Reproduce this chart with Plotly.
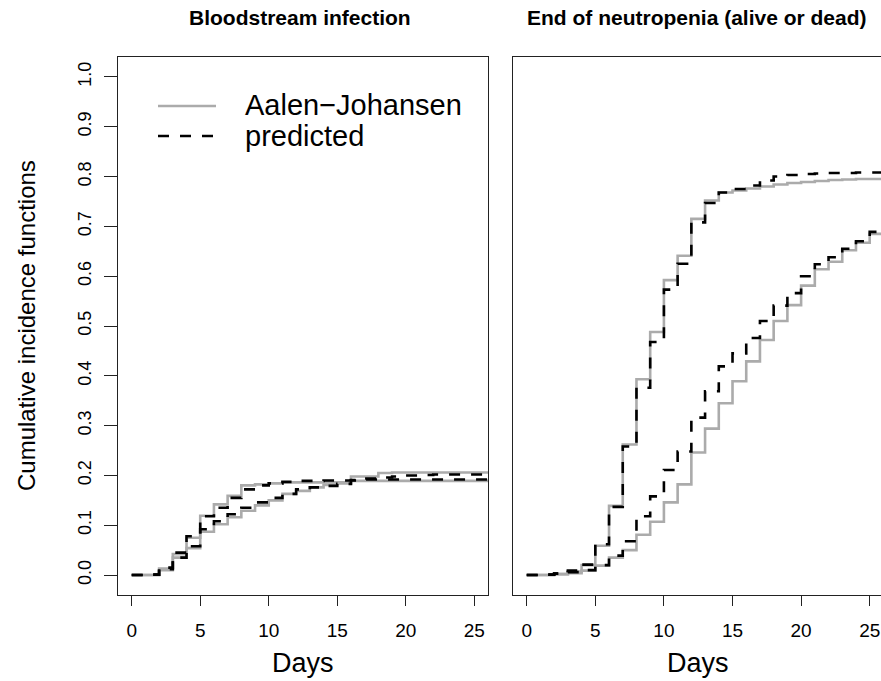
import plotly.graph_objects as go

# ---- data: cumulative incidence by day (step functions) ----
days = list(range(26))

# Bloodstream infection: Aalen-Johansen estimates, two groups
bsi_aj_a = [0, 0, 0.013, 0.042, 0.075, 0.119, 0.142, 0.159, 0.180, 0.182, 0.184, 0.186, 0.186,
            0.186, 0.186, 0.186, 0.198, 0.198, 0.205, 0.206, 0.206, 0.206, 0.206, 0.206, 0.206, 0.206]
bsi_aj_b = [0, 0, 0.010, 0.035, 0.054, 0.087, 0.102, 0.116, 0.129, 0.140, 0.150, 0.163, 0.169,
            0.176, 0.181, 0.184, 0.189, 0.189, 0.189, 0.189, 0.189, 0.189, 0.189, 0.189, 0.189, 0.189]
# Bloodstream infection: model predictions
bsi_pr_a = [0, 0.001, 0.015, 0.045, 0.078, 0.118, 0.135, 0.155, 0.172, 0.180, 0.184, 0.187, 0.189,
            0.189, 0.190, 0.190, 0.191, 0.192, 0.192, 0.192, 0.192, 0.192, 0.192, 0.192, 0.192, 0.192]
bsi_pr_b = [0, 0.001, 0.012, 0.035, 0.058, 0.092, 0.108, 0.122, 0.135, 0.146, 0.155, 0.163, 0.172,
            0.176, 0.179, 0.183, 0.190, 0.194, 0.196, 0.198, 0.200, 0.201, 0.202, 0.202, 0.202, 0.202]

# End of neutropenia: Aalen-Johansen estimates, two groups
neu_aj_a = [0, 0, 0.002, 0.007, 0.020, 0.059, 0.139, 0.262, 0.393, 0.488, 0.592, 0.641, 0.715,
            0.752, 0.768, 0.772, 0.776, 0.780, 0.784, 0.787, 0.789, 0.791, 0.793, 0.794, 0.795, 0.795]
neu_aj_b = [0, 0, 0.002, 0.004, 0.009, 0.019, 0.035, 0.050, 0.081, 0.107, 0.146, 0.182, 0.246,
            0.294, 0.345, 0.389, 0.429, 0.472, 0.510, 0.542, 0.581, 0.614, 0.629, 0.652, 0.667, 0.685]
# End of neutropenia: model predictions
neu_pr_a = [0, 0.001, 0.003, 0.009, 0.021, 0.062, 0.137, 0.258, 0.376, 0.468, 0.573, 0.625, 0.708,
            0.747, 0.768, 0.775, 0.782, 0.792, 0.800, 0.803, 0.805, 0.806, 0.807, 0.807, 0.808, 0.808]
neu_pr_b = [0, 0.001, 0.003, 0.006, 0.010, 0.020, 0.039, 0.068, 0.118, 0.158, 0.211, 0.248, 0.316,
            0.369, 0.419, 0.445, 0.476, 0.510, 0.541, 0.566, 0.600, 0.624, 0.638, 0.655, 0.670, 0.689]

panel_titles = ["Bloodstream infection", "End of neutropenia (alive or dead)"]
legend_labels = ["Aalen\u2212Johansen", "predicted"]
x_ticks = [0, 5, 10, 15, 20, 25]
y_ticks = [0.0, 0.1, 0.2, 0.3, 0.4, 0.5, 0.6, 0.7, 0.8, 0.9, 1.0]

# ---- styling ----
W, H = 881, 681
FONT = "Liberation Sans, Arial, Helvetica, sans-serif"
GREY = "#ababab"
LW = 2.6
DASH = "11px,11px"


def px(x):
    return x / W


def py(y):
    return 1 - y / H


def extend(vals):
    # carry the last value on past the final day so the step runs to the frame
    return days + [30], vals + [vals[-1]]


fig = go.Figure()

for xa, ya, aj_series, pr_series in [
    ("x", "y", [bsi_aj_a, bsi_aj_b], [bsi_pr_a, bsi_pr_b]),
    ("x2", "y2", [neu_aj_a, neu_aj_b], [neu_pr_a, neu_pr_b]),
]:
    for s in aj_series:
        xs, ys = extend(s)
        fig.add_trace(go.Scatter(x=xs, y=ys, mode="lines", line_shape="hv",
                                 line=dict(color=GREY, width=LW),
                                 xaxis=xa, yaxis=ya, showlegend=False, hoverinfo="skip"))
    for s in pr_series:
        xs, ys = extend(s)
        fig.add_trace(go.Scatter(x=xs, y=ys, mode="lines", line_shape="hv",
                                 line=dict(color="black", width=LW, dash=DASH),
                                 xaxis=xa, yaxis=ya, showlegend=False, hoverinfo="skip"))

y_dom = [py(595), py(57)]
axis_common = dict(showgrid=False, zeroline=False, linecolor="#222", linewidth=1.2,
                   ticks="outside", tickcolor="#222", tickwidth=1.2)

fig.update_layout(
    width=W, height=H,
    margin=dict(l=0, r=0, t=0, b=0),
    paper_bgcolor="white", plot_bgcolor="white",
    font=dict(family=FONT, color="black"),
    showlegend=False,
    xaxis=dict(domain=[px(118), px(488)], range=[-1, 26], anchor="y",
               tickvals=x_ticks, ticklen=10, showline=True, mirror=True,
               tickfont=dict(size=19), ticklabelstandoff=8, **axis_common),
    yaxis=dict(domain=y_dom, range=[-0.04, 1.04], anchor="x",
               tickvals=y_ticks, tickformat=".1f", tickangle=-90, ticklen=13,
               showline=True, mirror=True, tickfont=dict(size=18), ticklabelstandoff=6,
               **axis_common),
    xaxis2=dict(domain=[px(513), 1.0], range=[-1, (881 - 526.7) / 13.72], anchor="y2",
                tickvals=x_ticks, ticklen=10, showline=True, mirror=True,
                tickfont=dict(size=19), ticklabelstandoff=8, **axis_common),
    yaxis2=dict(domain=y_dom, range=[-0.04, 1.04], anchor="x2",
                showticklabels=False, showline=True, mirror=False,
                showgrid=False, zeroline=False, linecolor="#222", linewidth=1.2, ticks=""),
)

annotations = [
    dict(text="<b>%s</b>" % panel_titles[0], x=px(300), y=py(18), font=dict(size=21)),
    dict(text="<b>%s</b>" % panel_titles[1], x=px(697), y=py(18), font=dict(size=21)),
    dict(text="Days", x=px(303), y=py(663), font=dict(size=27)),
    dict(text="Days", x=px(698), y=py(663), font=dict(size=27)),
    dict(text="Cumulative incidence functions", x=px(27), y=py(326), textangle=-90,
         font=dict(size=24)),
    dict(text=legend_labels[0], x=px(243), y=py(105), xanchor="left", font=dict(size=29)),
    dict(text=legend_labels[1], x=px(243), y=py(136), xanchor="left", font=dict(size=29)),
]
for a in annotations:
    a.setdefault("xanchor", "center")
    a.update(xref="paper", yref="paper", yanchor="middle", showarrow=False)
fig.update_layout(annotations=annotations)

# legend keys
fig.add_shape(type="line", xref="paper", yref="paper", x0=px(158), x1=px(216),
              y0=py(106), y1=py(106), line=dict(color=GREY, width=LW))
fig.add_shape(type="line", xref="paper", yref="paper", x0=px(158), x1=px(216),
              y0=py(136), y1=py(136), line=dict(color="black", width=LW, dash=DASH))

fig.write_html("out.html")
